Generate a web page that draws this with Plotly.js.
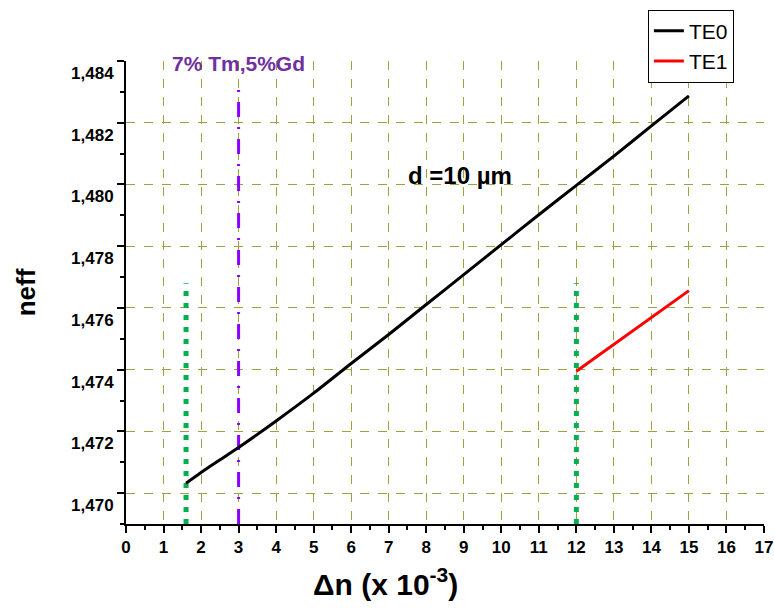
<!DOCTYPE html>
<html><head><meta charset="utf-8">
<script src="https://cdn.plot.ly/plotly-3.0.1.min.js"></script>
<style>body{margin:0;background:#fff}#chart{width:774px;height:608px}</style>
</head><body><div id="chart"></div>
<script>
const te0X = [1.6, 2, 3, 4, 5, 6, 7, 8, 9, 10, 11, 12, 13, 14, 15];
const te0Y = [1.47032, 1.47067, 1.47148, 1.47234, 1.47324, 1.47420, 1.47514, 1.47611, 1.47708, 1.47805, 1.47902, 1.47997, 1.48092, 1.48190, 1.48287];
const te1X = [12, 15];
const te1Y = [1.47395, 1.47656];
const greenLineX1 = [1.6, 1.6];
const greenLineX2 = [12, 12];
const greenLineY = [1.469, 1.4768];
const purpleLineX = [3, 3];
const purpleLineY = [1.469, 1.4831];
const gridX = [1, 2, 3, 4, 5, 6, 7, 8, 9, 10, 11, 12, 13, 14, 15, 16];
const gridY = [1.470, 1.472, 1.474, 1.476, 1.478, 1.480, 1.482];
const seriesNames = ['TE0', 'TE1'];
const annoLabels = ['7% Tm,5%Gd', 'd =10 µm'];
const xTitle = 'Δn (x 10<sup>-3</sup>)';
const yTitle = 'neff';

const FONT = 'Liberation Sans, Arial, sans-serif';

const traces = [
  {x: [], y: [], xaxis: 'x2', yaxis: 'y2', mode: 'lines', showlegend: false, hoverinfo: 'skip'},
  {x: greenLineX1, y: greenLineY, mode: 'lines', line: {color: '#00b050', width: 5, dash: '5px,7px'}, showlegend: false, hoverinfo: 'skip'},
  {x: greenLineX2, y: greenLineY, mode: 'lines', line: {color: '#00b050', width: 5, dash: '5px,7px'}, showlegend: false, hoverinfo: 'skip'},
  {x: purpleLineX, y: purpleLineY, mode: 'lines', line: {color: '#8b00ff', width: 3, dash: '15px,10px,2px,10px'}, showlegend: false, hoverinfo: 'skip'},
  {x: te0X, y: te0Y, mode: 'lines', name: seriesNames[0], line: {color: '#000000', width: 3, shape: 'spline', smoothing: 0.6}},
  {x: te1X, y: te1Y, mode: 'lines', name: seriesNames[1], line: {color: '#ff0000', width: 3}}
];

const tickFont = {family: FONT, size: 17, color: '#000', weight: 'bold'};

const layout = {
  width: 774, height: 608,
  margin: {l: 126, r: 10, t: 57, b: 84},
  paper_bgcolor: '#fff', plot_bgcolor: '#fff',
  separators: ', ',
  showlegend: true,
  legend: {x: 0.818, y: 1.111, xanchor: 'left', yanchor: 'top', bordercolor: '#000', borderwidth: 1,
           font: {family: FONT, size: 21, color: '#000'}, bgcolor: '#fff', tracegroupgap: 0},
  xaxis: {
    range: [0, 17], dtick: 1, tick0: 0, showline: true, linecolor: '#000', linewidth: 2,
    ticks: 'outside', ticklen: 7, tickwidth: 2, tickcolor: '#000',
    minor: {dtick: 0.5, ticks: 'outside', ticklen: 4, tickwidth: 2, tickcolor: '#000', showgrid: false},
    showgrid: false, zeroline: false, tickfont: tickFont
  },
  yaxis: {
    range: [1.469, 1.484], dtick: 0.002, tick0: 1.470, tickformat: '.3f', showline: true, linecolor: '#000', linewidth: 2,
    ticks: 'outside', ticklen: 7, tickwidth: 2, tickcolor: '#000',
    minor: {dtick: 0.001, ticks: 'outside', ticklen: 4, tickwidth: 2, tickcolor: '#000', showgrid: false},
    showgrid: false, zeroline: false, tickfont: tickFont, ticklabelshift: 12,
    title: {text: yTitle, font: {family: FONT, size: 26, color: '#000', weight: 'bold'}, standoff: 28}
  },
  xaxis2: {
    overlaying: 'x', range: [0, 17], tickmode: 'array', tickvals: gridX, showticklabels: false, ticks: '',
    showgrid: true, gridcolor: '#a0a040', griddash: 'dash', gridwidth: 1, zeroline: false, showline: false
  },
  yaxis2: {
    overlaying: 'y', range: [1.469, 1.484], tickmode: 'array', tickvals: gridY, showticklabels: false, ticks: '',
    showgrid: true, gridcolor: '#a0a040', griddash: 'dash', gridwidth: 1, zeroline: false, showline: false
  },
  annotations: [
    {x: 3, y: 0.995, xref: 'x', yref: 'paper', text: annoLabels[0], showarrow: false, xanchor: 'center', yanchor: 'middle',
     font: {family: FONT, size: 21, color: '#7030a0', weight: 'bold'}},
    {x: 8.9, y: 1.4803, xref: 'x', yref: 'y', text: annoLabels[1], showarrow: false, xanchor: 'center', yanchor: 'middle',
     font: {family: FONT, size: 24, color: '#000', weight: 'bold'}},
    {x: 0.406, y: -0.126, xref: 'paper', yref: 'paper', text: xTitle, showarrow: false, xanchor: 'center', yanchor: 'middle',
     font: {family: FONT, size: 30, color: '#000', weight: 'bold'}}
  ]
};

Plotly.newPlot('chart', traces, layout, {displayModeBar: false, staticPlot: true});
</script>
</body></html>
